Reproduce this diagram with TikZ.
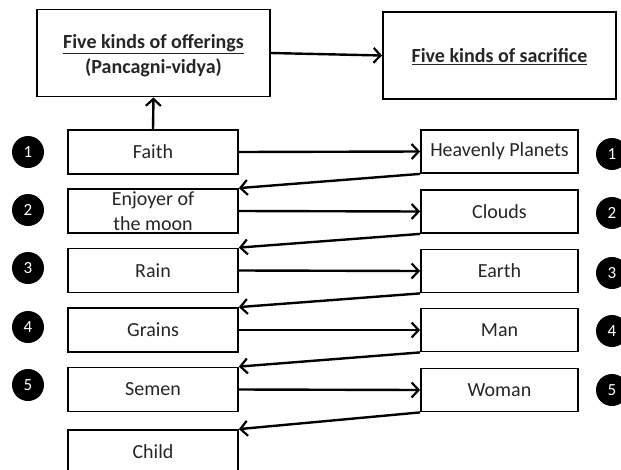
\documentclass[tikz,border=0pt]{standalone}
\usepackage{fontspec}
\setmainfont{Carlito}
\usetikzlibrary{arrows.meta}
\begin{document}
\begin{tikzpicture}[x=1pt,y=-1pt,
  box/.style={draw=black,line width=1.8pt,fill=white,inner sep=0pt,align=center,
    font=\fontsize{20}{25}\selectfont,text=black!85},
  lbox/.style={box,minimum width=170pt,minimum height=44pt},
  rbox/.style={box,minimum width=157pt,minimum height=43pt},
  tbox/.style={box,minimum width=233pt,minimum height=87pt},
  ttext/.style={inner sep=0pt,align=center,text=black!85,font=\fontsize{20}{25}\selectfont\bfseries},
  num/.style={circle,fill=black,minimum size=32pt,inner sep=0pt,text=white,
    font=\fontsize{17}{17}\selectfont},
  arr/.style={line width=2.4pt,-{Straight Barb[length=7pt,width=15pt,line width=2.2pt]}}
]
\useasboundingbox (0,0) rectangle (621,469);
\clip (0,0) rectangle (621,469);

\node[tbox] (off) at (153.5,53) {};
\node[ttext] (offt) at (153.5,56) {\underline{Five kinds of offerings}\\(Pancagni-vidya)};
\node[tbox] (sac) at (499.5,55.5) {};
\node[ttext] (sact) at (499.5,56.5) {\underline{Five kinds of sacrifice}};

\node[lbox] (l1) at (153,152) {Faith};
\node[lbox] (l2) at (153,211) {Enjoyer of\\the moon};
\node[lbox] (l3) at (153,270.5) {Rain};
\node[lbox] (l4) at (153,330) {Grains};
\node[lbox] (l5) at (153,389.5) {Semen};
\node[lbox] (l6) at (153,452) {Child};

\node[rbox] (r1) at (499.5,151.5) {Heavenly Planets};
\node[rbox] (r2) at (499.5,211.5) {Clouds};
\node[rbox] (r3) at (499.5,271) {Earth};
\node[rbox] (r4) at (499.5,330) {Man};
\node[rbox] (r5) at (499.5,390) {Woman};

\node[num] (a1) at (28,152) {1};
\node[num] (a2) at (28,210) {2};
\node[num] (a3) at (28,268) {3};
\node[num] (a4) at (28,327) {4};
\node[num] (a5) at (28,385) {5};

\node[num] (b1) at (612,154) {1};
\node[num] (b2) at (612,213) {2};
\node[num] (b3) at (612,273) {3};
\node[num] (b4) at (612,331) {4};
\node[num] (b5) at (612,390) {5};

\draw[arr] (off.east) -- (sac.west);
\draw[arr] (l1.north) -- (off.south);

\foreach \i in {1,...,5}{
  \draw[arr] (l\i.east) -- (r\i.west);
}
\foreach \i/\j in {1/2,2/3,3/4,4/5,5/6}{
  \draw[arr] (r\i.south west) -- (l\j.north east);
}
\end{tikzpicture}
\end{document}
